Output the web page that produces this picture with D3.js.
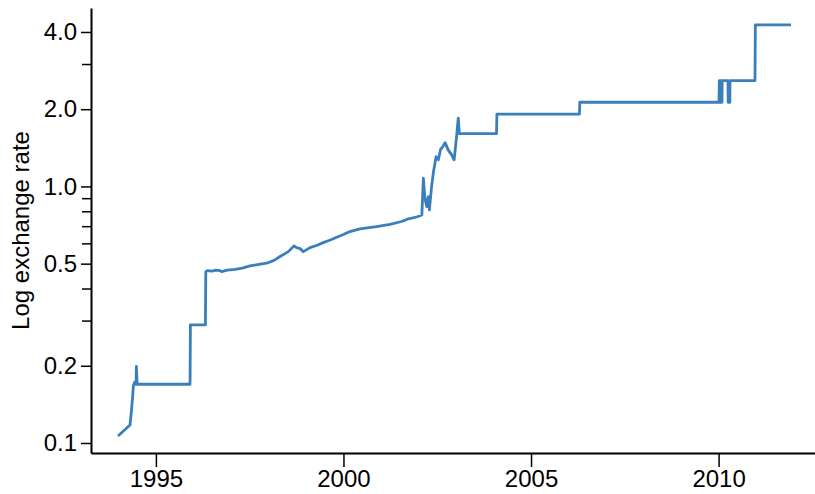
<!DOCTYPE html>
<html>
<head>
<meta charset="utf-8">
<script src="https://cdn.jsdelivr.net/npm/d3@7"></script>
<style>
  body { margin: 0; background: #fff; }
  svg { display: block; font-family: "Liberation Sans", Arial, sans-serif; }
  .axis path, .axis line { stroke: #000; }
  .axis text { fill: #000; }
</style>
</head>
<body>
<div id="chart"></div>
<script>
// decimal years and exchange rate values
var years = [
  1993.99, 1994.31, 1994.35, 1994.38, 1994.40, 1994.43, 1994.46, 1994.47, 1994.48, 1994.50,
  1995.91, 1995.92, 1996.32, 1996.33, 1996.38, 1996.50, 1996.60, 1996.71, 1996.75, 1996.90,
  1997.11, 1997.30, 1997.51, 1997.75, 1997.95, 1998.15, 1998.31, 1998.53, 1998.68, 1998.75,
  1998.85, 1998.93, 1999.11, 1999.30, 1999.46, 1999.65, 1999.82, 2000.00, 2000.17, 2000.44,
  2000.88, 2001.24, 2001.55, 2001.70, 2001.95, 2002.09, 2002.13, 2002.17, 2002.22, 2002.26,
  2002.29, 2002.35, 2002.40, 2002.47, 2002.53, 2002.59, 2002.65, 2002.71, 2002.79, 2002.88,
  2002.95, 2003.02, 2003.06, 2003.09, 2004.08, 2004.09, 2006.29, 2006.30, 2010.01, 2010.02,
  2010.06, 2010.065, 2010.09, 2010.095, 2010.25, 2010.255, 2010.30, 2010.305, 2010.97, 2010.98,
  2011.93
]
var rates = [
  0.1065, 0.1175, 0.1345, 0.1515, 0.167, 0.172, 0.170, 0.1694, 0.199, 0.1694,
  0.1694, 0.2884, 0.2884, 0.4655, 0.470, 0.468, 0.472, 0.470, 0.4655, 0.472,
  0.475, 0.480, 0.490, 0.497, 0.502, 0.515, 0.533, 0.557, 0.586, 0.5775,
  0.572, 0.557, 0.5775, 0.590, 0.604, 0.618, 0.634, 0.650, 0.667, 0.683,
  0.697, 0.712, 0.730, 0.745, 0.760, 0.774, 1.076, 0.900, 0.835, 0.912,
  0.810, 1.000, 1.142, 1.307, 1.270, 1.396, 1.430, 1.482, 1.388, 1.330,
  1.270, 1.588, 1.845, 1.605, 1.605, 1.912, 1.912, 2.129, 2.129, 2.586,
  2.586, 2.129, 2.129, 2.586, 2.586, 2.129, 2.129, 2.586, 2.586, 4.264,
  4.264
]
var xTicks = [1995, 2000, 2005, 2010]
var yMajor = [0.1, 0.2, 0.5, 1.0, 2.0, 4.0]
var yMinor = [0.3, 0.4, 0.6, 0.7, 0.8, 0.9, 3.0]

var width = 815
var height = 494
var margin = { top: 8, right: 0, bottom: 41, left: 91 }

var svg = d3.select('#chart')
  .append('svg')
  .attr('width', width)
  .attr('height', height)

var xScale = d3.scaleLinear()
  .domain([1993.27, 2012.57])
  .range([margin.left, width - margin.right])

var yScale = d3.scaleLog()
  .domain([0.0914, 4.96])
  .range([height - margin.bottom, margin.top])

var points = years.map(function (y, i) { return [y, rates[i]] })

var line = d3.line()
  .x(d => xScale(d[0]))
  .y(d => yScale(d[1]))

svg.append('path')
  .datum(points)
  .attr('fill', 'none')
  .attr('stroke', '#3a7ebb')
  .attr('stroke-width', 2.8)
  .attr('stroke-linejoin', 'round')
  .attr('d', line)

// minor y ticks, no labels
svg.append('g')
  .attr('class', 'axis')
  .attr('transform', 'translate(' + margin.left + ',0)')
  .call(d3.axisLeft(yScale).tickValues(yMinor).tickSize(9).tickFormat(''))
  .call(g => g.select('.domain').remove())
  .selectAll('line').attr('stroke-width', 1.5)

var yAxis = svg.append('g')
  .attr('class', 'axis')
  .attr('transform', 'translate(' + margin.left + ',0)')
  .call(d3.axisLeft(yScale).tickValues(yMajor).tickSize(10).tickPadding(4).tickFormat(d3.format('.1f')).tickSizeOuter(0))
yAxis.select('.domain').attr('stroke-width', 2)
yAxis.selectAll('line').attr('stroke-width', 1.5)
yAxis.selectAll('text').style('font-size', '24px')

var xAxis = svg.append('g')
  .attr('class', 'axis')
  .attr('transform', 'translate(0,' + (height - margin.bottom) + ')')
  .call(d3.axisBottom(xScale).tickValues(xTicks).tickSize(14).tickPadding(3).tickFormat(d3.format('d')).tickSizeOuter(0))
xAxis.select('.domain').attr('stroke-width', 2)
xAxis.selectAll('line').attr('stroke-width', 1.5)
xAxis.selectAll('text').style('font-size', '24px')

svg.append('text')
  .attr('transform', 'translate(29,' + ((margin.top + height - margin.bottom) / 2) + ') rotate(-90)')
  .attr('text-anchor', 'middle')
  .style('font-size', '24px')
  .text('Log exchange rate')
</script>
</body>
</html>
